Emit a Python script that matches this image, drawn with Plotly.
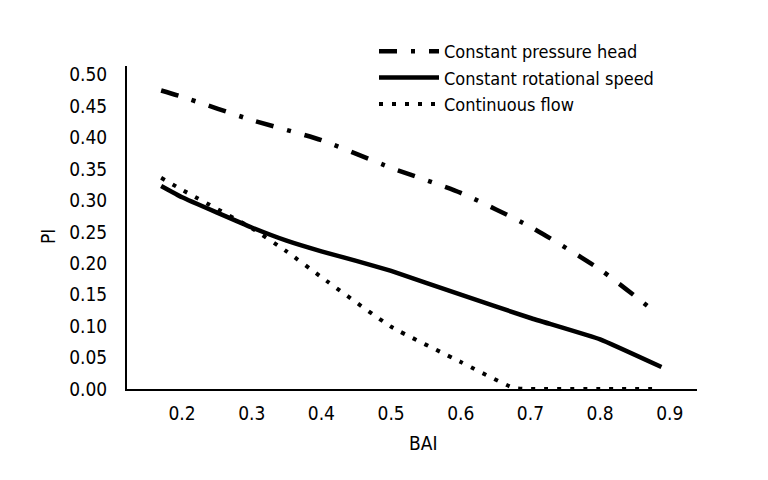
import plotly.graph_objects as go

bai_head = [0.17, 0.2, 0.3, 0.4, 0.5, 0.6, 0.7, 0.8, 0.876]
pi_head = [0.475, 0.465, 0.428, 0.396, 0.352, 0.312, 0.258, 0.19, 0.125]

bai_speed = [0.17, 0.2, 0.3, 0.35, 0.4, 0.45, 0.5, 0.6, 0.7, 0.8, 0.888]
pi_speed = [0.323, 0.305, 0.257, 0.236, 0.219, 0.204, 0.188, 0.150, 0.113, 0.079, 0.035]

bai_flow = [0.17, 0.2, 0.3, 0.35, 0.4, 0.5, 0.6, 0.675, 0.7, 0.8, 0.885]
pi_flow = [0.336, 0.317, 0.256, 0.219, 0.178, 0.099, 0.043, 0.002, 0.0, 0.0, 0.0]

names = ["Constant pressure head", "Constant rotational speed", "Continuous flow"]
x_ticks = [0.2, 0.3, 0.4, 0.5, 0.6, 0.7, 0.8, 0.9]
y_ticks = [0.0, 0.05, 0.1, 0.15, 0.2, 0.25, 0.3, 0.35, 0.4, 0.45, 0.5]

FONT = "DejaVu Sans Condensed, Liberation Sans Narrow, sans-serif"

fig = go.Figure()
fig.add_trace(go.Scatter(x=bai_head, y=pi_head, mode="lines", name=names[0],
                         line=dict(color="black", width=4.5, dash="18px,14px,4px,14px", shape="spline", smoothing=0.6)))
fig.add_trace(go.Scatter(x=bai_speed, y=pi_speed, mode="lines", name=names[1],
                         line=dict(color="black", width=4.5, shape="spline", smoothing=0.3)))
fig.add_trace(go.Scatter(x=bai_flow, y=pi_flow, mode="lines", name=names[2],
                         line=dict(color="black", width=4, dash="4px,9px", shape="spline", smoothing=0.4)))

# page has an 8px body margin; plot area target in screen pixels
OFF = 8
PL, PT, PR, PB = 127, 66, 697, 389
L, T = PL - OFF, PT - OFF
R, B = 768 - (PR - OFF), 480 - (PB - OFF)
pw, ph = PR - PL, PB - PT

fig.update_layout(
    width=768, height=480,
    margin=dict(l=L, r=R, t=T, b=B, autoexpand=False),
    paper_bgcolor="white", plot_bgcolor="white",
    font=dict(family=FONT, size=19, color="black"),
    showlegend=True,
    legend=dict(x=(374 - PL) / pw, y=1 + (PT - 33) / ph, xanchor="left", yanchor="top",
                bgcolor="rgba(0,0,0,0)", font=dict(size=18, family=FONT),
                itemwidth=60, traceorder="normal", tracegroupgap=1),
    xaxis=dict(range=[0.121, 0.939], tickvals=x_ticks, ticktext=[f"{v:.1f}" for v in x_ticks],
               showgrid=False, zeroline=False, showline=True, linecolor="black", linewidth=2,
               ticks="", ticklabelstandoff=6, automargin=False),
    yaxis=dict(range=[0, 0.514], tickvals=y_ticks, ticktext=[f"{v:.2f}" for v in y_ticks],
               showgrid=False, zeroline=False, showline=True, linecolor="black", linewidth=2,
               ticks="", ticklabelstandoff=14, automargin=False),
    annotations=[
        dict(text="PI", x=(48 - PL) / pw, y=(PB - 237) / ph, xref="paper", yref="paper",
             showarrow=False, textangle=-90, xanchor="center", yanchor="middle",
             font=dict(size=19, family=FONT)),
        dict(text="BAI", x=(423 - PL) / pw, y=(PB - 443) / ph, xref="paper", yref="paper",
             showarrow=False, xanchor="center", yanchor="middle",
             font=dict(size=19, family=FONT)),
    ],
)

fig.write_html("out.html")
